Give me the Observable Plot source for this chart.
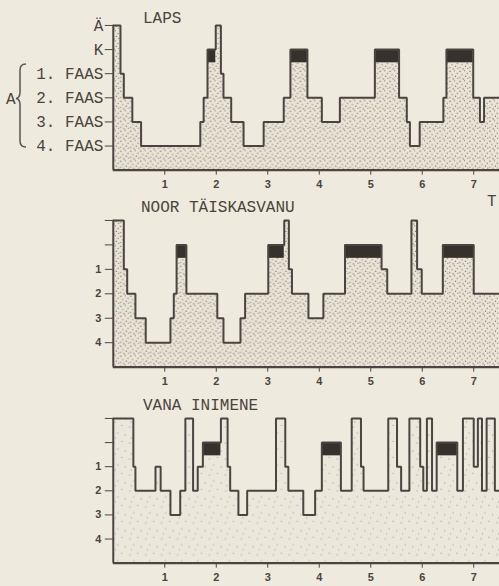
<!DOCTYPE html>
<html><head><meta charset="utf-8">
<script src="https://cdn.jsdelivr.net/npm/d3@7"></script>
<script src="https://cdn.jsdelivr.net/npm/@observablehq/plot@0.6"></script>
<style>
body{margin:0;background:#eeeade;width:499px;height:586px;overflow:hidden;position:relative}
.panel{position:absolute;left:0}
#ov{position:absolute;left:0;top:0;pointer-events:none}
</style></head><body>
<svg width="0" height="0" style="position:absolute">
<defs>
<pattern id="dotsDense" width="10" height="10" patternUnits="userSpaceOnUse">
<rect width="10" height="10" fill="#e9e4d6"/>
<circle cx="1" cy="1.5" r="0.65" fill="#6f685e"/>
<circle cx="5.5" cy="0.8" r="0.6" fill="#6f685e"/>
<circle cx="8.2" cy="3.6" r="0.65" fill="#6f685e"/>
<circle cx="3" cy="4.8" r="0.6" fill="#6f685e"/>
<circle cx="6.5" cy="6.4" r="0.65" fill="#6f685e"/>
<circle cx="0.9" cy="7.6" r="0.6" fill="#6f685e"/>
<circle cx="4.1" cy="9" r="0.65" fill="#6f685e"/>
<circle cx="8.8" cy="8.5" r="0.6" fill="#6f685e"/>
</pattern>
<pattern id="dotsSparse" width="16" height="16" patternUnits="userSpaceOnUse">
<rect width="16" height="16" fill="#ebe7da"/>
<circle cx="2" cy="3" r="0.6" fill="#8e877d"/>
<circle cx="10" cy="1.5" r="0.55" fill="#8e877d"/>
<circle cx="6" cy="9" r="0.6" fill="#8e877d"/>
<circle cx="13.5" cy="11" r="0.55" fill="#8e877d"/>
<circle cx="3.5" cy="14" r="0.55" fill="#8e877d"/>
</pattern>
</defs>
</svg>
<div id="p1" class="panel" style="top:0"></div>
<div id="p2" class="panel" style="top:195px"></div>
<div id="p3" class="panel" style="top:392px"></div>
<svg id="ov" width="499" height="586">
<g font-family="Liberation Mono, DejaVu Sans Mono, monospace" font-size="16" fill="#4a4440">
<text x="143" y="23">LAPS</text>
<text x="141" y="212">NOOR TÄISKASVANU</text>
<text x="143" y="410">VANA INIMENE</text>
<text x="487" y="206">T</text>
<text x="6" y="104">A</text>
</g>
<path d="M26 64 Q20 64 20 70 L20 92 Q20 98 16 98.5 Q20 99 20 105 L20 141 Q20 147 26 147" fill="none" stroke="#5a544f" stroke-width="1.5"/>
</svg>
<script>
// x axis ticks (hours)
const hourTicks = [1, 2, 3, 4, 5, 6, 7];
// stage levels: 0 = Ä (awake), 1 = K (REM), 2..5 = 1.-4. FAAS
const stageLevels = [0, 1, 2, 3, 4, 5];
const childStageLabels = ["Ä", "K", "1. FAAS", "2. FAAS", "3. FAAS", "4. FAAS"];
const adultStageLabels = ["", "", "1", "2", "3", "4"];

// LAPS
const lapsStarts = [0, 0.14, 0.205, 0.37, 0.54, 1.69, 1.755, 1.83, 1.99, 2.09, 2.14, 2.29, 2.53, 2.92, 3.31, 3.44, 3.77, 4.05, 4.40, 5.08, 5.55, 5.70, 5.76, 5.95, 6.41, 6.47, 6.99, 7.12, 7.20];
const lapsLevels = [0, 2, 3, 4, 5, 4, 3, 1, 0, 2, 3, 4, 5, 4, 3, 1, 3, 4, 3, 1, 3, 4, 5, 4, 3, 1, 3, 4, 3];

// NOOR TÄISKASVANU
const noorStarts = [0, 0.205, 0.27, 0.43, 0.63, 1.11, 1.175, 1.23, 1.42, 2.02, 2.14, 2.47, 2.56, 3.01, 3.32, 3.41, 3.47, 3.79, 4.08, 4.50, 5.21, 5.32, 5.79, 5.90, 5.99, 6.40, 7.00];
const noorLevels = [0, 2, 3, 4, 5, 4, 3, 1, 3, 4, 5, 4, 3, 1, 0, 2, 3, 4, 3, 1, 2, 3, 0, 2, 3, 1, 3];

// VANA INIMENE
const vanaStarts = [0, 0.39, 0.43, 0.82, 0.92, 1.11, 1.30, 1.40, 1.55, 1.64, 1.74, 2.09, 2.22, 2.27, 2.43, 2.60, 3.16, 3.34, 3.40, 3.69, 3.92, 4.05, 4.42, 4.63, 4.81, 4.86, 5.34, 5.51, 5.59, 5.75, 5.96, 6.02, 6.09, 6.19, 6.28, 6.68, 6.79, 7.00, 7.08, 7.16, 7.25, 7.41];
const vanaLevels = [0, 2, 3, 2, 3, 4, 3, 0, 3, 2, 1, 0, 2, 3, 4, 3, 0, 2, 3, 4, 3, 1, 3, 0, 2, 3, 0, 2, 3, 0, 2, 3, 0, 3, 1, 3, 0, 2, 0, 3, 0, 3];

const xEnd = 7.5;     // chart runs past the right edge of the page
const yBottom = 6;    // baseline below 4. FAAS
const remDepth = 0.55;
const ink = "#4a4541";

function panel(el, {starts, levels, labels, height, mt, mb, pattern, mono}) {
  const pts = starts.map((s, i) => ({x: s, level: levels[i]}));
  pts.push({x: xEnd, level: levels[levels.length - 1]});
  const rem = starts.map((s, i) => ({x1: s, x2: i + 1 < starts.length ? starts[i + 1] : xEnd, level: levels[i]}))
    .filter(d => d.level === 1);
  const labelFont = mono
    ? {fontFamily: "Liberation Mono, monospace", fontSize: 16, tickPadding: 2}
    : {fontFamily: "Liberation Sans, Arial, sans-serif", fontSize: 11, fontWeight: "bold", tickPadding: 4};
  const svg = Plot.plot({
    width: 500, height, marginLeft: 113, marginRight: 0, marginTop: mt, marginBottom: mb,
    style: {background: "transparent", color: ink, overflow: "visible"},
    x: {domain: [0, xEnd], label: null},
    y: {domain: [0, yBottom], reverse: true, label: null},
    marks: [
      Plot.areaY(pts, {x: "x", y1: yBottom, y2: "level", curve: "step-after", fill: pattern}),
      Plot.rect(rem, {x1: "x1", x2: "x2", y1: "level", y2: d => d.level + remDepth, fill: "#37312e"}),
      Plot.line(pts, {x: "x", y: "level", curve: "step-after", stroke: ink, strokeWidth: 2, strokeLinejoin: "miter"}),
      Plot.ruleX([0], {y1: 0, y2: yBottom, stroke: ink, strokeWidth: 2}),
      Plot.ruleY([yBottom], {stroke: ink, strokeWidth: 2.2}),
      Plot.axisY(stageLevels, {anchor: "left", label: null, tickSize: 8, tickFormat: i => labels[i], fill: "#4a4440", ...labelFont}),
      Plot.axisX(hourTicks, {anchor: "bottom", label: null, tickSize: 5, tickPadding: 5, fontFamily: "Liberation Sans, Arial, sans-serif", fontSize: 11, fontWeight: "bold", fill: "#4a4440"})
    ]
  });
  document.getElementById(el).appendChild(svg);
}

panel("p1", {starts: lapsStarts, levels: lapsLevels, labels: childStageLabels, height: 195, mt: 25, mb: 25, pattern: "url(#dotsDense)", mono: true});
panel("p2", {starts: noorStarts, levels: noorLevels, labels: adultStageLabels, height: 197, mt: 25, mb: 25, pattern: "url(#dotsDense)", mono: false});
panel("p3", {starts: vanaStarts, levels: vanaLevels, labels: adultStageLabels, height: 194, mt: 26, mb: 23, pattern: "url(#dotsSparse)", mono: false});
</script>
</body></html>
